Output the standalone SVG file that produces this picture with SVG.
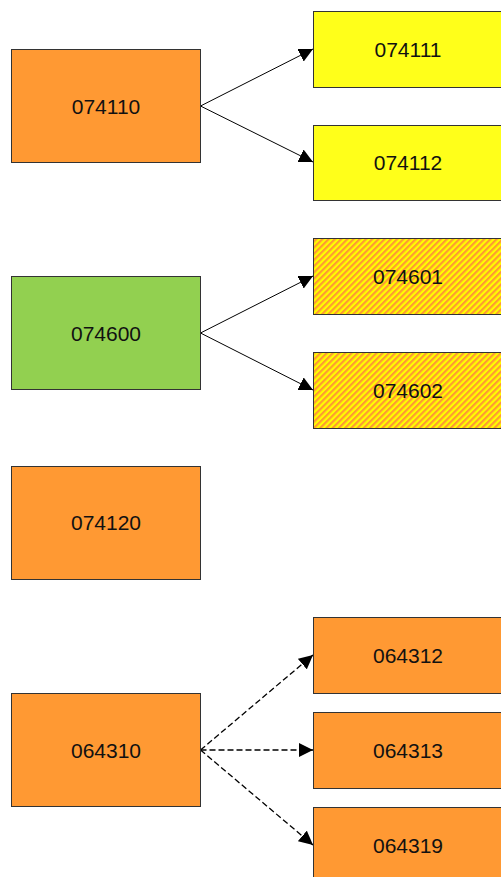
<svg xmlns="http://www.w3.org/2000/svg" width="501" height="877" viewBox="0 0 501 877">
<style>
.n rect{stroke:#333;stroke-width:1}
.o{fill:#FF9933}
.y{fill:#FFFF1A}
.g{fill:#92D050}
.h{fill:url(#hatch)}
text{font-family:"Liberation Sans",Arial,sans-serif;font-size:21px;fill:#111;text-anchor:middle;dominant-baseline:central}
.e line{stroke:#000;stroke-width:1;marker-end:url(#arr)}
.e .d{stroke-dasharray:6,3;stroke-width:1.3}
</style>
<defs>
<pattern id="hatch" patternUnits="userSpaceOnUse" width="4.4" height="4.4" patternTransform="rotate(45)">
<rect width="4.4" height="4.4" fill="#FFFF00"/>
<rect width="2.2" height="4.4" fill="#FF9933"/>
</pattern>
<marker id="arr" viewBox="0 0 10 10" refX="10" refY="5" markerWidth="14" markerHeight="14" markerUnits="userSpaceOnUse" orient="auto">
<path d="M0,0 L10,5 L0,10 z" fill="#000"/>
</marker>
</defs>
<g class="e">
<line x1="200.5" y1="106" x2="313" y2="49"/>
<line x1="200.5" y1="106" x2="313" y2="162"/>
<line x1="200.5" y1="333" x2="313" y2="276"/>
<line x1="200.5" y1="333" x2="313" y2="390"/>
<line class="d" x1="200.5" y1="750" x2="313" y2="655"/>
<line class="d" x1="200.5" y1="750" x2="313" y2="750"/>
<line class="d" x1="200.5" y1="750" x2="313" y2="845"/>
</g>
<g id="n074110" class="n"><rect class="o" x="11.5" y="49.5" width="189" height="113"/><text x="106" y="106">074110</text></g>
<g id="n074111" class="n"><rect class="y" x="313.5" y="11.5" width="189" height="76"/><text x="408" y="49">074111</text></g>
<g id="n074112" class="n"><rect class="y" x="313.5" y="125.5" width="189" height="75"/><text x="408" y="162">074112</text></g>
<g id="n074600" class="n"><rect class="g" x="11.5" y="276.5" width="189" height="113"/><text x="106" y="333">074600</text></g>
<g id="n074601" class="n"><rect class="h" x="313.5" y="238.5" width="189" height="76"/><text x="408" y="276">074601</text></g>
<g id="n074602" class="n"><rect class="h" x="313.5" y="352.5" width="189" height="76"/><text x="408" y="390">074602</text></g>
<g id="n074120" class="n"><rect class="o" x="11.5" y="466.5" width="189" height="113"/><text x="106" y="522">074120</text></g>
<g id="n064310" class="n"><rect class="o" x="11.5" y="693.5" width="189" height="113"/><text x="106" y="750">064310</text></g>
<g id="n064312" class="n"><rect class="o" x="313.5" y="617.5" width="189" height="76"/><text x="408" y="655">064312</text></g>
<g id="n064313" class="n"><rect class="o" x="313.5" y="712.5" width="189" height="76"/><text x="408" y="750">064313</text></g>
<g id="n064319" class="n"><rect class="o" x="313.5" y="807.5" width="189" height="76"/><text x="408" y="845">064319</text></g>
</svg>
